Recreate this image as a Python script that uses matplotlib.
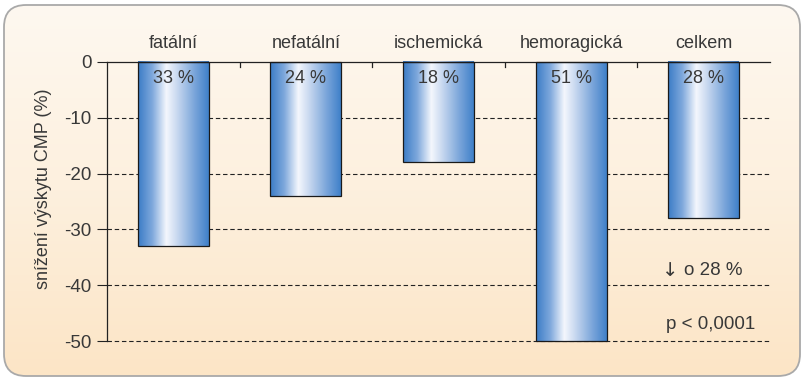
import numpy as np
import matplotlib
matplotlib.use("Agg")
import matplotlib.pyplot as plt
from matplotlib.patches import FancyBboxPatch
from matplotlib.colors import LinearSegmentedColormap

categories = ["fatální", "nefatální", "ischemická", "hemoragická", "celkem"]
reduction = [-33, -24, -18, -50, -28]
bar_labels = ["33 %", "24 %", "18 %", "51 %", "28 %"]
yticks = [0, -10, -20, -30, -40, -50]
ytick_labels = ["0", "-10", "-20", "-30", "-40", "-50"]

plt.rcParams["font.family"] = ["Liberation Sans", "DejaVu Sans"]
TXT = "#383838"

W, H = 805, 380
fig = plt.figure(figsize=(W / 100, H / 100), dpi=100)
fig.patch.set_facecolor("white")

# background panel with rounded corners and vertical gradient
bg = fig.add_axes([0, 0, 1, 1], zorder=0)
bg.set_xlim(0, W)
bg.set_ylim(0, H)
bg.axis("off")
panel = FancyBboxPatch((4, 4), W - 9, H - 9, boxstyle="round,pad=0,rounding_size=22",
                       facecolor="none", edgecolor="#a9a9a9", linewidth=1.3, zorder=3)
bg.add_patch(panel)
bg_cmap = LinearSegmentedColormap.from_list("bg", ["#fce5c6", "#fdf0de", "#fef8f0"])
grad = np.linspace(0, 1, 256).reshape(-1, 1)
im = bg.imshow(grad, cmap=bg_cmap, extent=(4, W - 5, 4, H - 5), origin="lower",
               aspect="auto", zorder=1)
im.set_clip_path(panel)

ax = fig.add_axes([107 / W, 1 - 341 / H, (770 - 107) / W, (341 - 62) / H], zorder=1)
ax.patch.set_alpha(0)
ax.set_xlim(-0.5, 4.5)
ax.set_ylim(-50, 0)

for v in yticks[1:]:
    ax.axhline(v, color="#222222", linestyle=(0, (4, 2.5)), linewidth=0.8, zorder=1,
               clip_on=False)

bar_cmap = LinearSegmentedColormap.from_list(
    "bar", [(0.0, "#3b7cc6"), (0.2, "#7ea8dc"), (0.4, "#f4f7fd"), (0.55, "#c9d9f0"),
            (0.8, "#7aa5da"), (1.0, "#3f80c9")])
hgrad = np.linspace(0, 1, 256).reshape(1, -1)
x = np.arange(len(categories))
bars = ax.bar(x, reduction, width=0.535, facecolor="none", edgecolor="#1a1a1a",
              linewidth=0.9, zorder=3, clip_on=False)
for b in bars:
    x0, w, h = b.get_x(), b.get_width(), b.get_height()
    img = ax.imshow(hgrad, cmap=bar_cmap, extent=(x0, x0 + w, h, 0), aspect="auto",
                    zorder=2, clip_on=False)
    img.set_clip_path(b)

for xi, lab in zip(x, bar_labels):
    ax.text(xi, -3, lab, ha="center", va="center", fontsize=13, color=TXT, zorder=4)

for xi, cat in zip(x, categories):
    ax.text(xi, 3.4, cat, ha="center", va="center", fontsize=13, color=TXT)

ax.set_yticks(yticks)
ax.set_yticklabels(ytick_labels, fontsize=13.5, color=TXT)
ax.set_xticks([])
ax.tick_params(axis="y", length=7, width=0.8, color="#222222", pad=4)
for s in ["right", "bottom"]:
    ax.spines[s].set_visible(False)
ax.spines["left"].set_color("#222222")
ax.spines["top"].set_color("#222222")
ax.spines["left"].set_linewidth(0.9)
ax.spines["top"].set_linewidth(0.9)
for xb in [0.5, 1.5, 2.5, 3.5]:
    ax.plot([xb, xb], [0, -0.9], color="#222222", linewidth=0.9, zorder=4)

ax.set_ylabel("snížení výskytu CMP (%)", fontsize=13, color=TXT)
ax.yaxis.set_label_coords(-0.083, 0.545)

ax.text(3.75, -37.3, "↓", ha="center", va="center", fontsize=14, color=TXT,
        family=["DejaVu Sans"])
ax.text(3.85, -37.3, "o 28 %", ha="left", va="center", fontsize=13.5, color=TXT)
ax.text(4.05, -47.0, "p < 0,0001", ha="center", va="center", fontsize=13.5, color=TXT)

fig.savefig("out.png", dpi=100)
